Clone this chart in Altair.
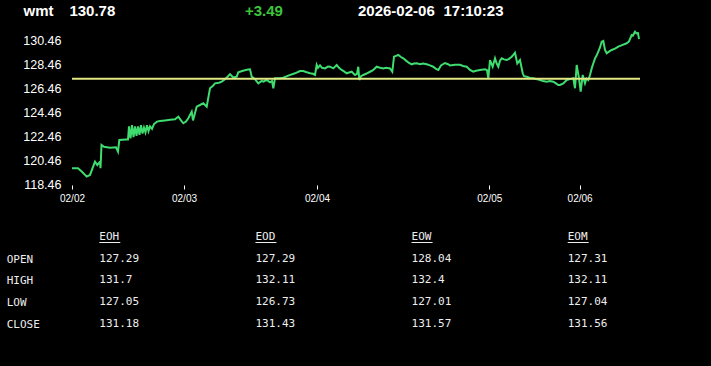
import altair as alt
import pandas as pd

# ---------------- data ----------------
symbol = "wmt"
last_price = 130.78
change = 3.49
stamp_date = "2026-02-06"
stamp_time = "17:10:23"
prev_close = 127.29

# sample position (time index) and price
idx = [
    0, 6, 10, 14.7, 18, 23, 25.3, 28, 28.5, 29.5,
    32, 38, 44, 46, 47.3, 54, 56, 57, 58.5, 60,
    61.5, 63, 64.5, 66, 67.5, 69, 70.5, 72, 73.5, 75,
    76.5, 78, 80, 82, 85, 88, 93, 98, 103, 106.3,
    109, 111.3, 114, 116.3, 119.7, 121, 124.7, 128, 131.3, 134.7,
    138, 141, 143, 147, 149.7, 152, 155, 158, 161.3, 164.7,
    166.3, 171, 176, 178, 179.7, 183, 186.3, 189.7, 191.3, 194.7,
    198, 200, 201.3, 203, 208, 211.3, 216.3, 223, 228, 231.3,
    234, 238, 241, 243, 244.7, 246, 248, 250, 253, 256,
    258, 261.3, 264.7, 267, 269.7, 272, 274.7, 277, 279.7, 283,
    285, 286.3, 287.3, 289, 291.3, 294, 298, 301, 304.7, 308,
    311.3, 314, 318, 320.3, 322, 324, 326.3, 329, 331.3, 334,
    337, 339.7, 342, 344.7, 348, 351, 354.7, 358, 361.3, 364,
    366.3, 369, 373, 376, 378, 383, 388, 391, 394.7, 398,
    401.3, 404, 408, 413, 415, 416.3, 418, 420.7, 423, 424.5,
    426.3, 428, 429.7, 432, 434.7, 437, 439.7, 441.5, 443, 445.3,
    448, 450.7, 452, 454.7, 458, 461.3, 465, 468, 471, 474.7,
    478, 481.3, 484, 486.3, 488, 491.3, 494.7, 498, 501.3, 503,
    504.7, 506, 507, 508.7, 510.7, 512, 513, 514.5, 516.3, 518,
    519.7, 521, 523, 524.5, 526.3, 528, 529.7, 531.3, 533, 534.7,
    537, 539.7, 543, 546.3, 550, 554.7, 557, 559.7, 561, 563,
    564.7, 566, 567,
]
price = [
    119.80, 119.80, 119.50, 119.10, 119.24, 120.35, 120.07, 120.35, 119.80, 121.75,
    121.60, 121.52, 121.55, 121.19, 122.16, 122.20, 122.20, 123.30, 122.30, 123.40,
    122.40, 123.30, 122.50, 123.30, 122.60, 123.40, 122.70, 123.20, 122.80, 123.40,
    122.90, 123.30, 123.10, 123.50, 123.70, 123.75, 123.80, 123.85, 123.90, 124.11,
    123.80, 123.56, 123.70, 123.98, 124.53, 123.80, 124.95, 125.09, 125.23, 124.95,
    126.49, 126.70, 126.90, 126.95, 127.04, 127.18, 127.40, 127.66, 127.40, 127.46,
    127.82, 127.95, 128.05, 128.07, 127.46, 127.25, 126.90, 127.10, 127.04, 127.18,
    126.99, 127.10, 126.49, 127.32, 127.32, 127.37, 127.55, 127.74, 127.93, 127.93,
    127.85, 127.74, 127.70, 127.60, 128.45, 128.20, 128.40, 128.20, 128.15, 128.30,
    128.29, 128.15, 128.43, 128.20, 128.02, 127.90, 127.74, 127.80, 127.87, 127.60,
    127.70, 128.29, 127.18, 127.50, 127.60, 127.70, 127.87, 128.00, 128.29, 128.20,
    128.15, 128.20, 128.15, 127.87, 129.13, 129.20, 129.27, 129.10, 128.99, 128.80,
    128.60, 128.49, 128.55, 128.57, 128.50, 128.55, 128.49, 128.40, 128.29, 128.10,
    128.02, 128.40, 128.60, 128.50, 128.40, 128.45, 128.45, 128.35, 128.29, 128.02,
    127.87, 127.95, 128.02, 128.07, 128.00, 127.32, 128.85, 128.29, 128.99, 128.60,
    128.29, 128.80, 128.99, 128.90, 128.85, 128.95, 129.13, 129.30, 129.46, 128.57,
    128.85, 127.74, 127.50, 127.46, 127.35, 127.32, 127.25, 127.18, 127.10, 127.04,
    127.10, 127.04, 126.90, 126.76, 126.76, 126.90, 127.18, 127.25, 127.32, 126.49,
    128.43, 127.80, 127.32, 126.20, 127.60, 127.20, 126.90, 127.30, 127.18, 127.60,
    128.15, 128.50, 128.99, 129.20, 129.55, 129.90, 130.38, 130.44, 129.69, 129.41,
    129.55, 129.69, 129.80, 129.97, 130.10, 130.25, 130.40, 130.94, 130.90, 131.22,
    131.08, 131.10, 130.60,
]

day_ticks = [0, 112, 245, 417.3, 507.6]
day_labels = ["02/02", "02/03", "02/04", "02/05", "02/06"]
y_ticks = [118.46, 120.46, 122.46, 124.46, 126.46, 128.46, 130.46]

table_cols = ["EOH", "EOD", "EOW", "EOM"]
table_rows = ["OPEN", "HIGH", "LOW", "CLOSE"]
eoh = [127.29, 131.7, 127.05, 131.18]
eod = [127.29, 132.11, 126.73, 131.43]
eow = [128.04, 132.4, 127.01, 131.57]
eom = [127.31, 132.11, 127.04, 131.56]

# ---------------- styles ----------------
BG = "#000000"
GREEN = "#3fdc6f"
YELLOW = "#dfe882"
UP = "#3cc43c"
WHITE = "#ffffff"
TXT = "#eeeeee"
SANS = "Liberation Sans"
MONO = "DejaVu Sans Mono"

W, H = 568, 155
X_DOMAIN = [0, 568]
Y_DOMAIN = [118.40, 131.36]

# ---------------- chart ----------------
df = pd.DataFrame({"t": idx, "p": price})

label_expr = ""
for v, lab in zip(day_ticks, day_labels):
    label_expr += f"datum.value == {v} ? '{lab}' : "
label_expr += "''"

line = alt.Chart(df).mark_line(color=GREEN, strokeWidth=2, interpolate="linear").encode(
    x=alt.X("t:Q", scale=alt.Scale(domain=X_DOMAIN, zero=False, nice=False),
            axis=alt.Axis(values=day_ticks, labelExpr=label_expr, grid=False, domain=False,
                          ticks=True, tickColor=WHITE, tickSize=4, tickWidth=1,
                          tickCount=len(day_ticks),
                          labelColor=WHITE, labelFont=SANS, labelFontSize=10,
                          labelPadding=4, labelFlush=False, labelOverlap=False, title=None)),
    y=alt.Y("p:Q", scale=alt.Scale(domain=Y_DOMAIN, zero=False, nice=False),
            axis=alt.Axis(values=y_ticks, tickCount=len(y_ticks), format=".2f", grid=False,
                          domain=False, ticks=False, tickSize=0, labelPadding=11,
                          labelColor=WHITE, labelFont=SANS, labelFontSize=12.5,
                          labelOverlap=False, title=None)),
)

rule = alt.Chart(pd.DataFrame({"p": [prev_close]})).mark_rule(
    color=YELLOW, strokeWidth=2
).encode(y=alt.Y("p:Q"))

plot = alt.layer(line, rule)

# header texts
header_texts = [symbol, f"{last_price:.2f}", f"+{change:.2f}", stamp_date, stamp_time]
header_colors = [WHITE, WHITE, UP, WHITE, WHITE]
header_x = [-48.4, -2.6, 173, 286, 371.5]
header_layers = []
for txt, col, hx in zip(header_texts, header_colors, header_x):
    header_layers.append(
        alt.Chart(pd.DataFrame({"s": [txt]})).mark_text(
            align="left", baseline="middle", font=SANS, fontSize=15,
            fontWeight="bold", color=col
        ).encode(x=alt.value(hx), y=alt.value(-19), text="s:N")
    )

# table
cell_rows = []
for ci, (cname, vals) in enumerate(zip(table_cols, [eoh, eod, eow, eom])):
    for ri, v in enumerate(vals):
        cell_rows.append({"c": ci, "r": ri + 1, "s": str(v)})
cells = pd.DataFrame(cell_rows)
heads = pd.DataFrame({"c": list(range(len(table_cols))), "r": [0] * len(table_cols), "s": table_cols})
rowlab = pd.DataFrame({"r": list(range(1, len(table_rows) + 1)), "s": table_rows})

xs_tab = alt.Scale(domain=[0, 3], range=[27.3, 495.7], zero=False, nice=False)
ys_tab = alt.Scale(domain=[0, 4], range=[207, 293.8], zero=False, nice=False)

cell_layer = alt.Chart(cells).mark_text(
    align="left", baseline="middle", font=MONO, fontSize=11, color=TXT
).encode(x=alt.X("c:Q", scale=xs_tab, axis=None), y=alt.Y("r:Q", scale=ys_tab, axis=None), text="s:N")

head_layer = alt.Chart(heads).mark_text(
    align="left", baseline="middle", font=MONO, fontSize=11, color=TXT
).encode(x=alt.X("c:Q", scale=xs_tab, axis=None), y=alt.Y("r:Q", scale=ys_tab, axis=None), text="s:N")

under_layer = alt.Chart(heads).mark_rule(
    color=TXT, strokeWidth=1, x2Offset=21, yOffset=5.5
).encode(x=alt.X("c:Q", scale=xs_tab, axis=None), x2="c:Q", y=alt.Y("r:Q", scale=ys_tab, axis=None))

rowlab_layer = alt.Chart(rowlab).mark_text(
    align="left", baseline="middle", font=MONO, fontSize=11, color=TXT, dy=1
).encode(x=alt.value(-65.3), y=alt.Y("r:Q", scale=ys_tab, axis=None), text="s:N")

chart = alt.layer(
    plot, *header_layers, cell_layer, head_layer, under_layer, rowlab_layer
).resolve_scale(x="independent", y="independent").properties(
    width=W, height=H,
    padding={"left": 72, "top": 30, "right": 71, "bottom": 181},
    autosize=alt.AutoSizeParams(type="none"),
    background=BG,
).configure_view(stroke=None)

chart.save("out.html", embed_options={"renderer": "svg", "actions": False})
